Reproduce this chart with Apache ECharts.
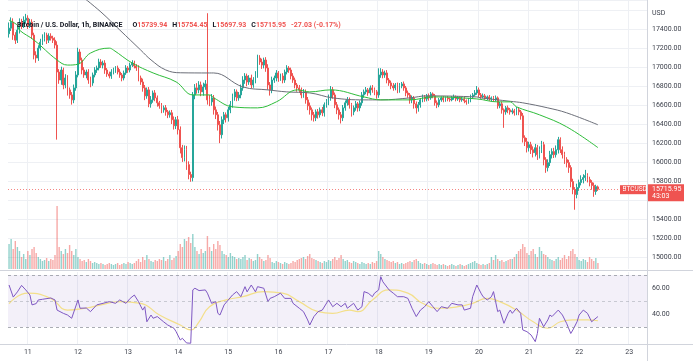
<!DOCTYPE html>
<html><head><meta charset="utf-8">
<script src="https://cdn.jsdelivr.net/npm/echarts@6/dist/echarts.min.js"></script>
<style>html,body{margin:0;padding:0;background:#fff}#c{width:693px;height:361px}</style>
</head><body><div id="c"></div>
<script>
const dayLabels = ['10','11','12','13','14','15','16','17','18','19','20','21','22','23'];
const startHour = 15;
const slotCount = 306;
const firstOpen = 17350;
const lastOpen = 15739.94;
const closes = [
17409,17472,17336,17283,17388,17472,17440,17493,17514,17440,
17472,17336,17126,17095,17199,17262,17304,17336,17283,17325,
17304,17283,17231,16948,16864,16969,16812,16885,16760,16707,
16655,16781,16917,17158,17074,16969,16917,16948,16864,16833,
16917,16969,16990,17053,17021,17042,16969,16927,16906,16948,
16969,16990,16948,16917,16885,16938,16990,16969,17021,17042,
17011,16990,16885,16843,16781,16697,16760,16613,16655,16728,
16676,16624,16592,16550,16571,16529,16498,16519,16446,16383,
16446,16341,16152,16048,16131,15974,15870,15838,16707,16781,
16760,16812,16739,16791,16823,16655,16634,16676,16550,16498,
16393,16289,16446,16498,16467,16550,16603,16686,16739,16676,
16707,16781,16864,16906,16843,16885,16812,16864,16917,17095,
17053,17021,17074,16990,16812,16760,16864,16885,16938,16885,
16906,16864,16948,16990,16969,16906,16864,16812,16781,16760,
16707,16739,16655,16592,16550,16498,16467,16529,16498,16550,
16519,16603,16634,16676,16760,16707,16603,16550,16498,16467,
16571,16624,16655,16603,16529,16571,16613,16571,16624,16707,
16739,16760,16728,16781,16760,16739,16707,16917,16948,16917,
16938,16864,16833,16802,16781,16812,16760,16802,16823,16781,
16728,16707,16655,16676,16613,16571,16603,16655,16686,16665,
16697,16676,16718,16697,16624,16603,16655,16676,16655,16676,
16665,16655,16676,16686,16665,16676,16655,16665,16645,16634,
16655,16686,16707,16728,16760,16707,16686,16697,16676,16686,
16665,16676,16655,16676,16592,16613,16550,16529,16571,16550,
16529,16540,16519,16550,16529,16487,16257,16215,16152,16184,
16131,16100,16152,16079,16131,16184,16027,15943,15995,16079,
16111,16079,16131,16236,16131,16079,16027,15995,15943,15796,
15713,15660,15734,15786,15817,15838,15859,15817,15786,15755,
15692,15742.98,15715.95];
const upperWick = [
60,50,40,30,45,40,35,40,45,30, 35,30,25,40,30,35,40,30,25,30,
30,25,30,40,30,35,25,40,30,25, 30,35,40,45,30,25,30,25,30,35,
25,30,25,35,30,25,30,20,25,30, 25,20,25,30,20,25,30,20,25,30,
25,20,30,25,35,30,25,30,40,25, 30,25,20,30,25,30,20,25,30,35,
30,40,35,30,45,40,35,30,30,40, 50,40,35,45,40,743,50,40,30,35,
30,40,35,30,25,30,40,35,30,25, 30,35,40,30,25,30,35,30,40,35,
30,35,25,30,40,30,35,25,30,20, 25,30,25,30,20,25,30,25,20,30,
25,30,25,30,35,25,30,25,30,25, 30,25,30,35,40,30,25,30,25,30,
30,25,30,25,20,25,30,20,25,30, 25,30,20,25,30,25,20,70,40,30,
25,30,20,25,30,20,25,30,20,25, 20,25,20,25,20,25,30,20,25,20,
20,25,20,15,20,25,20,15,20,15, 20,15,20,25,15,20,15,20,25,15,
20,25,20,30,40,25,20,25,20,15, 20,15,20,25,15,20,25,15,20,25,
20,25,20,30,25,20,30,25,40,30, 30,35,40,30,35,40,30,25,35,40,
35,40,45,30,25,35,30,25,30,25, 30,25,40,30,45,35,60,25,30,25,
30,20,14.51];
const lowerWick = [
40,30,50,40,30,35,40,30,35,40, 30,40,45,50,30,25,30,35,40,30,
25,30,35,711,40,50,45,35,60,40, 50,35,30,25,40,45,30,35,40,45,
30,25,30,25,30,35,40,30,25,30, 25,30,25,30,35,25,20,30,25,20,
25,30,35,30,40,45,30,35,40,30, 35,40,30,35,30,40,35,30,45,40,
35,50,60,45,40,55,50,44,40,45, 40,35,45,40,30,50,45,40,50,45,
60,89,40,45,50,40,35,30,40,35, 30,35,30,40,45,30,35,30,35,30,
30,40,35,40,50,60,35,30,35,40, 30,35,30,25,30,35,30,35,40,30,
35,30,40,45,50,60,40,35,40,30, 35,40,30,35,30,40,35,45,50,60,
35,30,30,40,50,35,30,40,35,30, 30,25,30,25,30,35,40,30,30,35,
30,35,30,35,30,25,35,30,25,30, 35,30,40,35,50,60,40,30,25,30,
25,30,20,25,30,35,25,20,25,20, 25,20,15,20,25,20,25,20,25,30,
20,25,20,15,20,25,20,15,20,25, 20,25,20,15,30,25,40,168,30,35,
30,25,30,25,35,40,50,45,50,40, 45,50,40,55,40,35,60,55,40,35,
40,35,30,40,35,40,45,50,55,60, 50,160,40,35,30,40,35,30,40,45,
56,35,18.02];
const volumes = [
2500,3000,2000,2800,2200,1800,1200,1500,1000,1800, 1400,2000,2200,1600,1200,1000,800,900,1100,800,
1000,900,1400,6300,2200,1800,1500,2000,1600,2400, 1800,1400,2000,1200,1000,800,900,700,1000,800,
600,700,600,500,600,500,400,500,600,500, 400,500,600,400,500,600,500,700,600,500,
600,800,1000,700,1200,900,1400,1000,800,700, 900,800,1000,900,1200,800,1000,1400,900,1100,
1300,1800,2500,2200,3000,2800,3200,2600,3500,2200, 1800,1500,2000,1600,1800,3300,2200,1800,2500,2000,
2800,2400,1800,1500,1400,1200,1600,1300,1200,1000, 1100,1000,1200,1400,900,1100,1000,800,900,1500,
1200,1000,800,900,1400,1100,700,600,800,700, 600,500,700,600,500,600,800,700,900,1000,
1100,1200,1000,1300,1500,1100,1000,900,800,700, 600,800,700,900,800,1000,1200,900,1100,1400,
1000,800,900,700,600,800,700,600,500,700, 600,500,600,500,700,600,800,1800,1500,1200,
1000,900,800,700,800,600,700,500,600,500, 600,700,800,700,900,1000,800,600,500,600,
500,400,500,600,500,400,500,400,500,400, 300,400,500,400,300,400,500,400,300,400,
500,600,700,800,600,500,400,500,400,500, 600,1200,900,1400,1000,800,900,700,800,900,
1000,1000,1200,1500,1800,2000,2500,2200,1600,1400, 1800,2000,1500,1200,2200,1800,1500,1400,1200,1000,
900,800,1000,1200,900,1100,1400,1000,1300,1800, 2000,1500,1200,900,800,1000,900,700,1200,1000,
800,1100,600];
const ma50Points = [[0,17493],[4,17440],[5,17388],[12,17283],[23,17074],[28,17021],[33,17030],[39,17147],[48,17199],[50,17179],[59,17042],[69,16938],[80,16844],[88,16707],[96,16707],[98,16676],[107,16582],[119,16571],[128,16634],[138,16760],[144,16739],[154,16760],[170,16686],[178,16655],[192,16655],[203,16686],[224,16665],[234,16634],[240,16634],[243,16582],[254,16498],[267,16372],[282,16153]];
const ma200Points = [[34,17760],[44,17579],[53,17390],[63,17180],[68,17075],[75,16970],[82,16940],[96,16938],[98,16938],[112,16791],[124,16760],[133,16739],[144,16728],[155,16676],[170,16655],[178,16655],[192,16676],[200,16697],[224,16686],[226,16676],[240,16640],[246,16624],[258,16571],[267,16519],[282,16393]];
const rsiPoints = [[0,62.3],[2,53],[4,57],[6,62],[8,58.5],[10,54.6],[11,47],[13,48],[14,50.8],[16,51.3],[20,52.3],[22,50.8],[23,43],[26,40.5],[28,39.2],[30,36.7],[33,50.8],[34,44.4],[37,44.6],[39,41.8],[42,47],[45,48.2],[48,49.5],[51,48.2],[53,50.8],[56,48.2],[58,52],[60,54.6],[62,49.5],[64,43],[65,45.6],[66,34],[68,39.2],[69,36.7],[71,38],[74,34],[76,31.5],[79,29],[80,26.4],[82,20],[83,21.3],[85,17.7],[87,17.5],[88,58.5],[89,59.8],[91,58],[94,58.5],[95,56],[97,48.2],[99,49.5],[100,40.5],[101,39.2],[103,47],[105,50.8],[107,54.6],[109,57.2],[111,53.3],[113,61],[114,57],[116,62.3],[118,57],[119,61],[122,59.8],[124,49.5],[125,52],[127,53.3],[130,56],[132,52],[135,52],[136,48.2],[139,44.4],[141,41.8],[143,35.4],[144,31.5],[146,38],[148,41.8],[150,43],[153,50.8],[155,45.6],[157,48.2],[159,45.6],[161,48.2],[162,44.4],[165,48.2],[167,43],[169,45.6],[170,57.2],[172,56],[174,53.3],[175,56],[177,58.5],[178,68.7],[179,64.8],[182,58.5],[184,56],[186,53.3],[189,53.3],[191,52],[192,48.2],[193,44.4],[195,38],[197,43],[199,45.6],[201,49.5],[203,45.6],[205,41.8],[207,45.6],[210,44.4],[212,48.2],[215,47],[217,47],[218,43],[221,44.4],[222,53.3],[224,62.3],[226,56],[227,53.3],[229,50.8],[231,53.3],[232,57.2],[234,41.8],[235,43],[237,32.8],[239,40.5],[240,43],[241,40.5],[243,44.4],[245,40.5],[246,27.7],[248,26.4],[250,23.8],[252,18.7],[253,25],[254,36.7],[256,30.2],[258,35.4],[259,39.2],[260,38],[263,43],[265,39.2],[267,32.8],[269,25],[270,27.7],[272,34],[273,39.2],[275,43],[277,40.5],[279,34],[280,35.4],[282,38]];
const rsiMaPoints = [[0,48],[9,56],[20,52],[28,43],[37,44.6],[44,47],[53,49.5],[63,48.2],[72,39.2],[82,31.5],[87,27.7],[91,34],[96,45.6],[104,50.8],[112,53.3],[122,57.2],[131,56],[139,49.5],[148,41.8],[155,40.5],[163,43],[167,41.8],[174,50.8],[182,58.5],[191,56],[198,48.2],[206,44.4],[215,45.6],[222,48.2],[229,52],[235,49.5],[243,43],[251,34],[258,29],[264,34],[270,35.4],[277,35.4],[282,34.8]];
const priceTicks = [15000,15200,15400,15800,16000,16200,16400,16600,16800,17000,17200,17400];
const rsiTicks = [40,60];
const rsiLevels = [70,50,30];

const UP='#26a69a', DOWN='#ef5350';
const FONT='Roboto, "Noto Sans", sans-serif';
const categories=[];
for(let i=0;i<slotCount;i++){const t=startHour+i;categories.push(dayLabels[Math.floor(t/24)]+'|'+(t%24));}
const isDay=(i,v)=>v.split('|')[1]==='0';
const candles=[], vols=[];
const n=closes.length;
for(let i=0;i<n;i++){
  const o=i===0?firstOpen:(i===n-1?lastOpen:closes[i-1]), c=closes[i];
  const hi=Math.max(o,c)+upperWick[i], lo=Math.min(o,c)-lowerWick[i];
  candles.push([o,c,lo,hi]);
  vols.push({value:volumes[i],itemStyle:{color:c>=o?'rgba(38,166,154,0.5)':'rgba(239,83,80,0.5)'}});
}
const last=candles[n-1];
const prevClose=closes[n-2];
const chg=last[1]-prevClose;
const fmt=v=>v.toFixed(2);
const L=8,R=46;
function xAx(gi,labels){return {type:'category',gridIndex:gi,data:categories,boundaryGap:true,
  axisLine:{show:false},axisTick:{show:false,alignWithLabel:true,interval:isDay},
  splitLine:{show:true,interval:isDay,lineStyle:{color:'#eef0f4',width:1}},
  axisLabel:{show:labels,interval:isDay,formatter:v=>v.split('|')[0],color:'#3b3f4a',fontSize:7,fontFamily:FONT,margin:5}};}
const chart=echarts.init(document.getElementById('c'),null,{renderer:'canvas'});
chart.setOption({
  animation:false,backgroundColor:'#fff',
  title:{left:12,top:11,text:'{n|Bitcoin / U.S. Dollar, 1h, BINANCE}  {k|O}{v|'+fmt(last[0])+'} {k|H}{v|'+fmt(last[3])+'} {k|L}{v|'+fmt(last[2])+'} {k|C}{v|'+fmt(last[1])+'} {v|'+fmt(chg)+' ('+fmt(chg/prevClose*100)+'%)}',
    textStyle:{rich:{n:{color:'#131722',fontSize:7,fontFamily:FONT},k:{color:'#131722',fontSize:7,fontFamily:FONT},v:{color:DOWN,fontSize:7,fontFamily:FONT}}}},
  grid:[{left:L,right:R,top:0,height:257.3},{left:L,right:R,top:150,height:119},{left:L,right:R,top:272,height:72}],
  xAxis:[xAx(0,false),xAx(1,false),xAx(2,true)],
  yAxis:[
    {type:'value',gridIndex:0,position:'right',min:15000,max:17705,interval:200,scale:true,
     axisLine:{show:false},axisTick:{show:false},splitLine:{lineStyle:{color:'#eef0f4'}},
     axisLabel:{formatter:v=>priceTicks.indexOf(v)>=0?fmt(v):'',color:'#3b3f4a',fontSize:7,fontFamily:FONT,margin:5}},
    {type:'value',gridIndex:1,min:0,max:11900,show:false},
    {type:'value',gridIndex:2,position:'right',min:16.9,max:72.3,
     axisLine:{show:false},axisTick:{show:false},splitLine:{show:false},
     axisLabel:{formatter:v=>rsiTicks.indexOf(v)>=0?fmt(v):'',color:'#3b3f4a',fontSize:7,fontFamily:FONT,margin:5}}
  ],
  series:[
    {type:'bar',xAxisIndex:1,yAxisIndex:1,data:vols,barWidth:1.4,silent:true},
    {type:'candlestick',xAxisIndex:0,yAxisIndex:0,data:candles,barWidth:1.4,
     itemStyle:{color:UP,color0:DOWN,borderColor:UP,borderColor0:DOWN,borderWidth:1},
     markLine:{silent:true,symbol:'none',label:{show:false},lineStyle:{color:DOWN,type:[1,2],width:1,opacity:0.7},data:[{yAxis:last[1]}]}},
    {type:'line',xAxisIndex:0,yAxisIndex:0,data:ma200Points,showSymbol:false,smooth:0.4,lineStyle:{color:'#6b6e78',width:1}},
    {type:'line',xAxisIndex:0,yAxisIndex:0,data:ma50Points,showSymbol:false,smooth:0.4,lineStyle:{color:'#2ebd3a',width:1}},
    {type:'line',xAxisIndex:2,yAxisIndex:2,data:rsiMaPoints,showSymbol:false,smooth:0.5,lineStyle:{color:'#f3df8a',width:1.2},
     markArea:{silent:true,itemStyle:{color:'rgba(126,87,194,0.09)'},data:[[{yAxis:rsiLevels[2]},{yAxis:rsiLevels[0]}]]},
     markLine:{silent:true,symbol:'none',label:{show:false},data:rsiLevels.map(v=>({yAxis:v,lineStyle:{color:'#9598a1',type:[3,3],width:1,opacity:v===50?0.45:0.8}}))}},
    {type:'line',xAxisIndex:2,yAxisIndex:2,data:rsiPoints,showSymbol:false,lineStyle:{color:'#7e57c2',width:1}}
  ]
});
const py=chart.convertToPixel({yAxisIndex:0},last[1]);
const axX=693-R;
chart.setOption({graphic:[
  {type:'line',silent:true,shape:{x1:axX+0.5,y1:0,x2:axX+0.5,y2:361},style:{stroke:'#d1d4dc',lineWidth:1}},
  {type:'line',silent:true,shape:{x1:0,y1:270.5,x2:693,y2:270.5},style:{stroke:'#d1d4dc',lineWidth:1}},
  {type:'line',silent:true,shape:{x1:0,y1:344.5,x2:693,y2:344.5},style:{stroke:'#d1d4dc',lineWidth:1}},
  {type:'text',silent:true,x:axX+5,y:10,style:{text:'USD',fill:'#3b3f4a',font:'7px '+FONT}},
  {type:'rect',silent:true,shape:{x:axX-27,y:py-4,width:26,height:9},style:{fill:'#ef5350'}},
  {type:'text',silent:true,x:axX-24.5,y:py-3,style:{text:'BTCUSD',fill:'#fff',font:'6.5px '+FONT}},
  {type:'rect',silent:true,shape:{x:axX+1,y:py-5,width:36,height:17},style:{fill:'#ef5350'}},
  {type:'text',silent:true,x:axX+5,y:py-3.5,style:{text:fmt(last[1]),fill:'#fff',font:'7px '+FONT}},
  {type:'text',silent:true,x:axX+5,y:py+4,style:{text:'43:03',fill:'#fff',font:'7px '+FONT}}
]});
</script></body></html>
